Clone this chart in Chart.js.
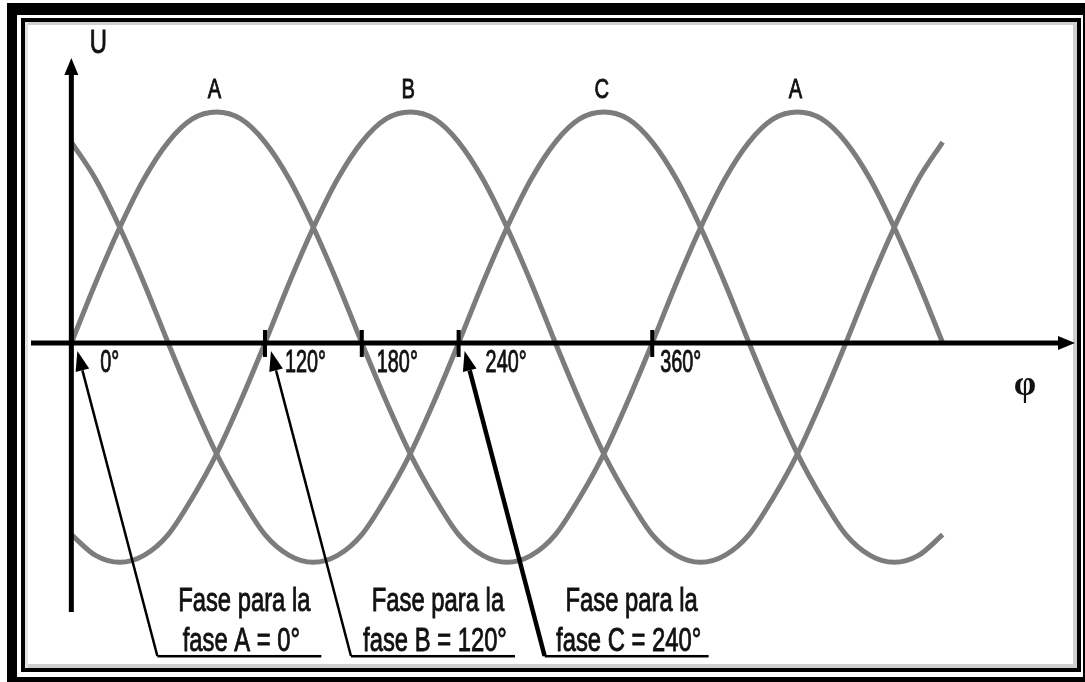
<!DOCTYPE html>
<html>
<head>
<meta charset="utf-8">
<script src="https://cdn.jsdelivr.net/npm/chart.js@4.4.0/dist/chart.umd.min.js"></script>
<style>
  html, body { margin: 0; padding: 0; background: #fff; }
  #wrap { width: 1085px; height: 682px; }
</style>
</head>
<body>
<div id="wrap"><canvas id="ondas" width="1085" height="682"></canvas></div>
<script>
// Ángulos (grados) y tensiones, cada 15°
const angulos = [0, 15, 30, 45, 60, 75, 90, 105, 120, 135, 150, 165, 180, 195, 210, 225, 240, 255,
  270, 285, 300, 315, 330, 345, 360, 375, 390, 405, 420, 435, 450, 465, 480, 495, 510, 525, 540];

const faseA = [0, 0.26, 0.5, 0.71, 0.87, 0.97, 1, 0.97, 0.87, 0.71, 0.5, 0.26, 0,
  -0.25, -0.48, -0.67, -0.83, -0.92, -0.95, -0.92, -0.83, -0.67, -0.48, -0.25,
  0, 0.26, 0.5, 0.71, 0.87, 0.97, 1, 0.97, 0.87, 0.71, 0.5, 0.26, 0];

const faseB = [-0.83, -0.92, -0.95, -0.92, -0.83, -0.67, -0.48, -0.25,
  0, 0.26, 0.5, 0.71, 0.87, 0.97, 1, 0.97, 0.87, 0.71, 0.5, 0.26,
  0, -0.25, -0.48, -0.67, -0.83, -0.92, -0.95, -0.92, -0.83, -0.67, -0.48, -0.25,
  0, 0.26, 0.5, 0.71, 0.87];

const faseC = [0.87, 0.71, 0.5, 0.26, 0, -0.25, -0.48, -0.67, -0.83, -0.92, -0.95, -0.92,
  -0.83, -0.67, -0.48, -0.25,
  0, 0.26, 0.5, 0.71, 0.87, 0.97, 1, 0.97, 0.87, 0.71, 0.5, 0.26, 0,
  -0.25, -0.48, -0.67, -0.83, -0.92, -0.95, -0.92, -0.83];

// Marcas del eje φ
const marcas = [0, 120, 180, 240, 360];
const marcasTexto = ['0°', '120°', '180°', '240°', '360°'];

// Nombres sobre cada máximo
const picos = [90, 210, 330, 450];
const picosTexto = ['A', 'B', 'C', 'A'];

// Notas de fase
const fases = [0, 120, 240];
const fasesLinea1 = ['Fase para la', 'Fase para la', 'Fase para la'];
const fasesLinea2 = ['fase A = 0°', 'fase B = 120°', 'fase C = 240°'];

const FUENTE = '"Liberation Sans", Arial, sans-serif';

function texto(ctx, t, x, y, size, align, sx, weight, family) {
  ctx.save();
  ctx.font = (weight || 'normal') + ' ' + size + 'px ' + (family || FUENTE);
  ctx.textAlign = align;
  ctx.textBaseline = 'alphabetic';
  ctx.translate(x, y);
  ctx.scale(sx, 1);
  ctx.fillStyle = '#111';
  ctx.strokeStyle = '#111';
  ctx.lineWidth = 0.9;
  ctx.fillText(t, 0, 0);
  ctx.strokeText(t, 0, 0); // trazo algo más grueso, como en la imagen
  ctx.restore();
}

// línea con punta de flecha rellena en (x2, y2)
function flecha(ctx, x1, y1, x2, y2, w, largo, medio) {
  const ang = Math.atan2(y2 - y1, x2 - x1);
  const bx = x2 - Math.cos(ang) * largo, by = y2 - Math.sin(ang) * largo;
  ctx.beginPath();
  ctx.moveTo(x1, y1);
  ctx.lineTo(bx, by);
  ctx.lineWidth = w;
  ctx.stroke();
  ctx.beginPath();
  ctx.moveTo(x2, y2);
  ctx.lineTo(bx + Math.sin(ang) * medio, by - Math.cos(ang) * medio);
  ctx.lineTo(bx - Math.sin(ang) * medio, by + Math.cos(ang) * medio);
  ctx.closePath();
  ctx.fill();
}

const marco = {
  id: 'marco',
  beforeDraw(chart) {
    const ctx = chart.ctx;
    ctx.save();
    ctx.fillStyle = '#fff'; ctx.fillRect(0, 0, 1085, 682);
    ctx.fillStyle = '#000'; ctx.fillRect(7, 3, 1078, 679);
    ctx.fillStyle = '#fff'; ctx.fillRect(17, 15, 1066, 662);
    ctx.fillStyle = '#000'; ctx.fillRect(21, 18, 1060, 654);
    ctx.fillStyle = '#fff'; ctx.fillRect(25, 22, 1052, 646);
    // sombra interior
    ctx.fillStyle = '#cfcfcf';
    ctx.fillRect(25, 22, 1052, 3);
    ctx.fillRect(1073, 22, 4, 646);
    ctx.fillRect(25, 664, 1052, 4);
    ctx.fillStyle = '#e2e2e2';
    ctx.fillRect(25, 22, 3, 646);
    ctx.restore();
  }
};

const dibujo = {
  id: 'dibujo',
  afterDatasetsDraw(chart) {
    const ctx = chart.ctx, area = chart.chartArea;
    const sx = chart.scales.x, sy = chart.scales.y;
    const x0 = sx.getPixelForValue(0), y0 = sy.getPixelForValue(0);
    ctx.save();
    ctx.strokeStyle = '#000';
    ctx.fillStyle = '#000';
    ctx.lineCap = 'butt';

    // ejes
    flecha(ctx, area.left, y0, area.right, y0, 5, 17, 7);
    flecha(ctx, x0, area.bottom, x0, area.top, 5, 17, 7);

    // marcas y textos del eje
    const dx = [29, 20, 15, 27, 8];
    marcas.forEach((v, i) => {
      const px = sx.getPixelForValue(v);
      ctx.fillStyle = '#000';
      ctx.fillRect(px - 2, y0 - 13, 4, 27);
      texto(ctx, marcasTexto[i], px + dx[i], y0 + 29, 31, 'left', 0.64);
    });

    // nombres de las fases
    picos.forEach((v, i) => {
      texto(ctx, picosTexto[i], sx.getPixelForValue(v) - 2, sy.getPixelForValue(1) - 14, 28, 'center', 0.72);
    });

    texto(ctx, 'U', x0 + 27, area.top - 5, 34, 'center', 0.7);
    ctx.save();
    ctx.font = 'bold 36px "Liberation Serif", serif';
    ctx.textAlign = 'center';
    ctx.textBaseline = 'middle';
    ctx.fillStyle = '#111';
    ctx.fillText('φ', area.right - 50, y0 + 43);
    ctx.restore();

    // notas con flechas
    const grosor = [2.5, 2.5, 4.5];
    fases.forEach((v, i) => {
      const px = sx.getPixelForValue(v);
      texto(ctx, fasesLinea1[i], px + 173, y0 + 268, 34, 'center', 0.7);
      texto(ctx, fasesLinea2[i], px + 170, y0 + 308, 34, 'center', 0.7);
      ctx.fillStyle = '#000';
      ctx.fillRect(px + 86, y0 + 312, 164, 2.5);
      ctx.strokeStyle = '#000';
      flecha(ctx, px + 86, y0 + 313, px + 6, y0 + 8, grosor[i], 20, 7);
    });
    ctx.restore();
  }
};

const serie = (vals) => vals.map((v, i) => ({ x: angulos[i], y: v }));
const estilo = {
  borderColor: '#7c7c7c',
  borderWidth: 5,
  pointRadius: 0,
  cubicInterpolationMode: 'monotone',
  fill: false
};

new Chart(document.getElementById('ondas'), {
  type: 'line',
  data: {
    datasets: [
      Object.assign({ label: 'A', data: serie(faseA) }, estilo),
      Object.assign({ label: 'B', data: serie(faseB) }, estilo),
      Object.assign({ label: 'C', data: serie(faseC) }, estilo)
    ]
  },
  options: {
    responsive: false,
    animation: false,
    devicePixelRatio: 1,
    layout: { padding: { left: 31, right: 10, top: 58, bottom: 70 } },
    plugins: { legend: { display: false }, tooltip: { enabled: false } },
    scales: {
      x: { type: 'linear', min: -25, max: 622, display: false },
      y: { min: -1.165, max: 1.234, display: false }
    }
  },
  plugins: [marco, dibujo]
});
</script>
</body>
</html>
